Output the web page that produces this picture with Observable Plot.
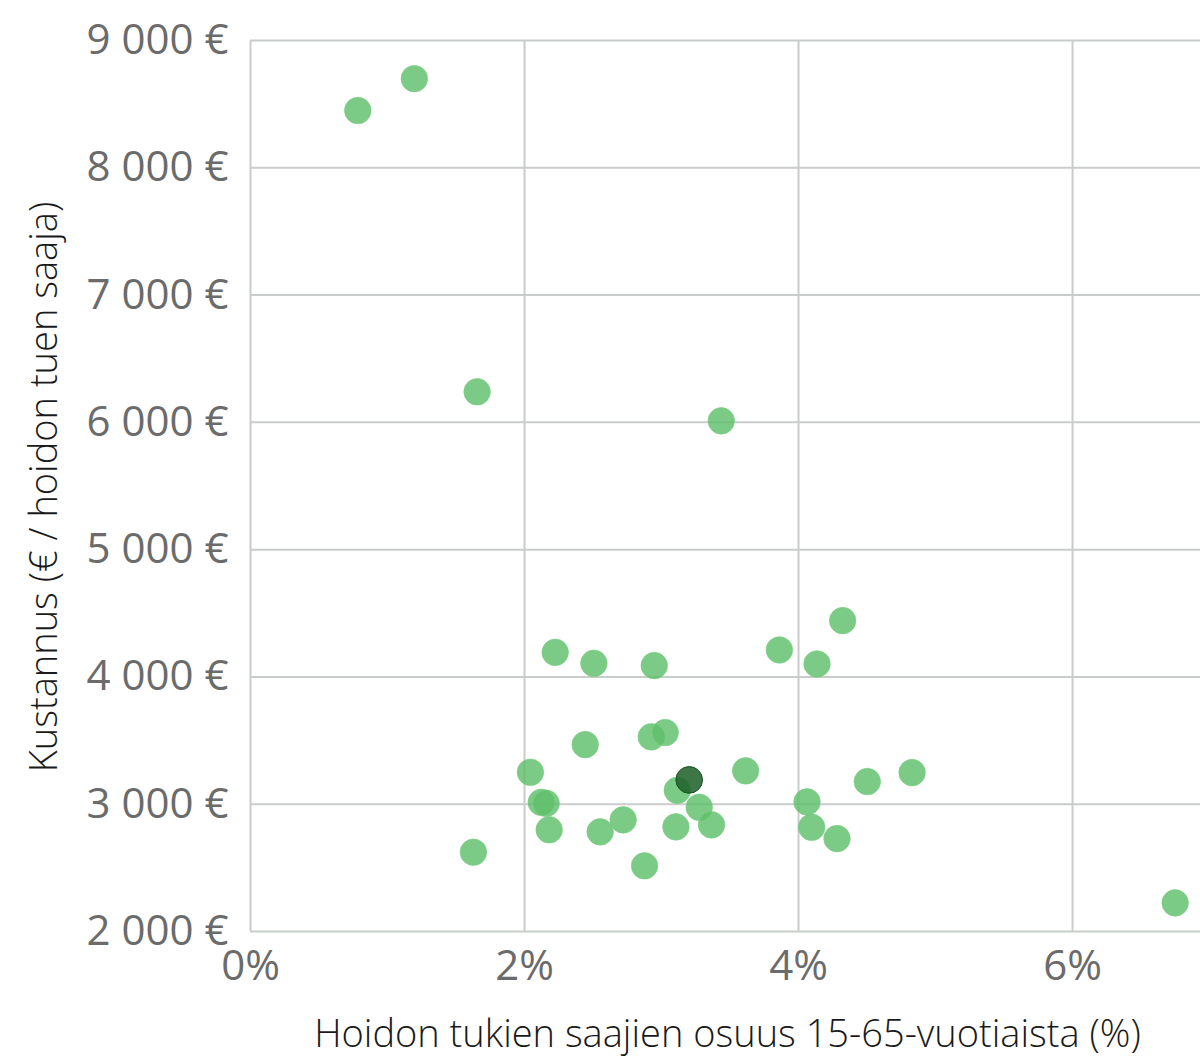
<!DOCTYPE html>
<html>
<head>
<meta charset="utf-8">
<script src="https://cdn.jsdelivr.net/npm/d3@7"></script>
<script src="https://cdn.jsdelivr.net/npm/@observablehq/plot@0.6"></script>
<style>
  html, body { margin: 0; padding: 0; background: #fff; }
</style>
</head>
<body>
<div id="chart"></div>
<script>
// Data: share of 15-65-year-olds receiving care support (%) vs. cost per recipient (€)
const osuus = [0.783, 1.196, 1.654, 3.436, 4.322, 2.224, 2.506, 2.947, 3.860, 4.135,
               2.443, 2.925, 3.027, 2.043, 2.122, 2.158, 2.180, 1.627, 2.552, 2.720,
               2.876, 3.115, 3.275, 3.105, 3.365, 3.614, 4.062, 4.096, 4.281, 4.502,
               4.829, 6.749];
const kustannus = [8450, 8700, 6240, 6012, 4442, 4193, 4107, 4089, 4212, 4102,
                   3468, 3529, 3563, 3251, 3015, 3007, 2799, 2623, 2783, 2877,
                   2516, 3109, 2976, 2822, 2838, 3262, 3018, 2819, 2730, 3178,
                   3248, 2225];
// Highlighted point (dark green)
const korostusOsuus = [3.202];
const korostusKustannus = [3191];

const xTicks = [0, 2, 4, 6];
const xTickLabels = ["0%", "2%", "4%", "6%"];
const yTicks = [2000, 3000, 4000, 5000, 6000, 7000, 8000, 9000];
const yTickLabels = ["2 000 €", "3 000 €", "4 000 €", "5 000 €", "6 000 €", "7 000 €", "8 000 €", "9 000 €"];
const xTitle = "Hoidon tukien saajien osuus 15-65-vuotiaista (%)";
const yTitle = "Kustannus (€ / hoidon tuen saaja)";

const points = osuus.map((x, i) => ({x, y: kustannus[i]}));
const highlight = korostusOsuus.map((x, i) => ({x, y: korostusKustannus[i]}));

const gridColor = "#c9cdc9";
const font = "'Open Sans', 'Noto Sans', sans-serif";

const chart = Plot.plot({
  width: 1200,
  height: 1057,
  marginLeft: 250,
  marginRight: 0,
  marginTop: 40,
  marginBottom: 126,
  style: {fontFamily: font, background: "#fff"},
  x: {domain: [0, 6.934]},
  y: {domain: [2000, 9000]},
  marks: [
    Plot.gridX(xTicks, {stroke: gridColor, strokeOpacity: 1, strokeWidth: 2}),
    Plot.gridY(yTicks, {stroke: gridColor, strokeOpacity: 1, strokeWidth: 2}),
    Plot.axisX(xTicks, {
      tickFormat: d => xTickLabels[xTicks.indexOf(d)],
      tickSize: 0, tickPadding: 19, fontSize: 42, color: "#6b6b6b", label: null
    }),
    Plot.axisY(yTicks, {
      tickFormat: d => yTickLabels[yTicks.indexOf(d)],
      tickSize: 0, tickPadding: 22, fontSize: 42, color: "#6b6b6b", label: null
    }),
    Plot.dot(points, {x: "x", y: "y", r: 13.3, fill: "#5ebe6a", fillOpacity: 0.82,
      stroke: "#7ccf86", strokeWidth: 1, strokeOpacity: 0.6}),
    Plot.dot(highlight, {x: "x", y: "y", r: 13.3, fill: "#1c5f27", fillOpacity: 0.85,
      stroke: "#174d20", strokeWidth: 1}),
    Plot.text([xTitle], {frameAnchor: "bottom", dx: 2, dy: 103, lineAnchor: "middle", textAnchor: "middle",
      fontSize: 38, fontWeight: 300, fill: "#1a1a1a", text: d => d}),
    Plot.text([yTitle], {frameAnchor: "left", dx: -206, dy: 1, rotate: -90, lineAnchor: "middle", textAnchor: "middle",
      fontSize: 38, fontWeight: 300, fill: "#1a1a1a", text: d => d})
  ]
});

document.getElementById("chart").appendChild(chart);
</script>
</body>
</html>
